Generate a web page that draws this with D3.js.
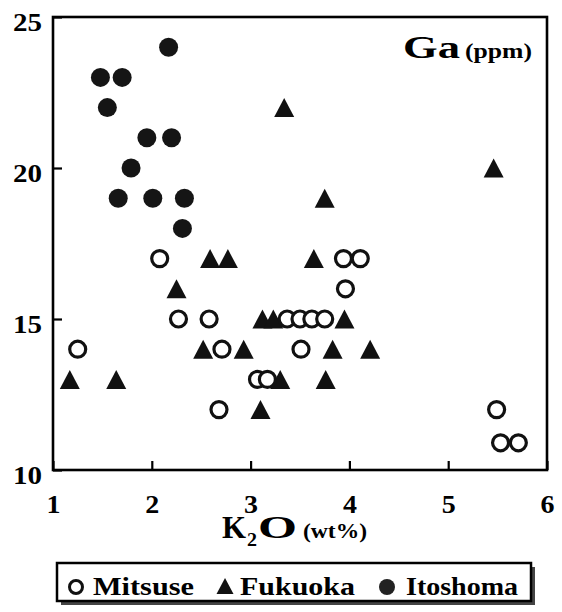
<!DOCTYPE html>
<html>
<head>
<meta charset="utf-8">
<script src="https://cdn.jsdelivr.net/npm/d3@7/dist/d3.min.js"></script>
<style>
  html, body { margin: 0; padding: 0; background: #fff; }
  svg { display: block; }
  text { font-family: "Liberation Serif", "Times New Roman", serif; font-weight: bold; fill: #000; }
</style>
</head>
<body>
<svg id="chart" width="562" height="612"></svg>
<script>
// ---- data ----
const xTicks = [1, 2, 3, 4, 5, 6];
const yTicks = [10, 15, 20, 25];
const seriesNames = ["Mitsuse", "Fukuoka", "Itoshoma"];

const mitsuseK2O = [1.25, 2.08, 2.27, 2.58, 2.71, 2.68, 3.07, 3.17, 3.37, 3.50, 3.62, 3.75, 3.51, 3.94, 4.11, 3.96, 5.49, 5.53, 5.71];
const mitsuseGa  = [14,   17,   15,   15,   14,   12,   13,   13,   15,   15,   15,   15,   14,   17,   17,   16,   12,   10.9, 10.9];

const fukuokaK2O = [1.17, 1.64, 2.25, 2.59, 2.77, 2.52, 2.93, 3.10, 3.12, 3.23, 3.30, 3.34, 3.64, 3.75, 3.95, 3.83, 4.21, 3.76, 5.46];
const fukuokaGa  = [13,   13,   16,   17,   17,   14,   14,   12,   15,   15,   13,   22,   17,   19,   15,   14,   14,   13,   20];

const itoshomaK2O = [2.17, 1.48, 1.70, 1.55, 1.95, 2.20, 1.79, 1.66, 2.01, 2.33, 2.31];
const itoshomaGa  = [24,   23,   23,   22,   21,   21,   20,   19,   19,   19,   18];

// ---- layout ----
const svg = d3.select("#chart");
const x = d3.scaleLinear().domain([1, 6]).range([53, 547]);
const y = d3.scaleLinear().domain([10, 25]).range([470, 17]);

const zip = (a, b) => a.map((v, i) => ({ k: v, ga: b[i] }));
const mitsuse = zip(mitsuseK2O, mitsuseGa);
const fukuoka = zip(fukuokaK2O, fukuokaGa);
const itoshoma = zip(itoshomaK2O, itoshomaGa);

const triPath = (w, h) => `M0,${-h/2}L${w/2},${h/2}L${-w/2},${h/2}Z`;

// axes
const xAxis = d3.axisBottom(x).tickValues(xTicks).tickFormat(d3.format("d"))
  .tickSizeInner(-9).tickSizeOuter(0).tickPadding(25);
const gx = svg.append("g").attr("transform", "translate(0,470)").call(xAxis);
gx.attr("font-family", null);
gx.select(".domain").remove();
gx.selectAll(".tick line").attr("stroke", "#000").attr("stroke-width", 2.2);
gx.selectAll(".tick text").attr("font-size", 26).attr("fill", "#000")
  .attr("textLength", d => String(d).length * 14).attr("lengthAdjust", "spacingAndGlyphs");

const yAxis = d3.axisLeft(y).tickValues(yTicks).tickFormat(d3.format("d"))
  .tickSizeInner(-9).tickSizeOuter(0).tickPadding(11);
const gy = svg.append("g").attr("transform", "translate(53,0)").call(yAxis);
gy.attr("font-family", null);
gy.select(".domain").remove();
gy.selectAll(".tick line").attr("stroke", "#000").attr("stroke-width", 2.2);
gy.selectAll(".tick text").attr("font-size", 26).attr("fill", "#000")
  .attr("dy", "0.5em").attr("textLength", 29).attr("lengthAdjust", "spacingAndGlyphs");

// frame
svg.append("rect")
  .attr("x", x(1)).attr("y", y(25))
  .attr("width", x(6) - x(1)).attr("height", y(10) - y(25))
  .attr("fill", "none").attr("stroke", "#000").attr("stroke-width", 2.6);

// points: Fukuoka (triangles)
svg.append("g").selectAll("path").data(fukuoka).join("path")
  .attr("d", triPath(20, 19))
  .attr("transform", d => `translate(${x(d.k)},${y(d.ga)})`)
  .attr("fill", "#111");

// Mitsuse (open circles)
svg.append("g").selectAll("circle").data(mitsuse).join("circle")
  .attr("cx", d => x(d.k)).attr("cy", d => y(d.ga)).attr("r", 8)
  .attr("fill", "#fff").attr("stroke", "#111").attr("stroke-width", 3.2);

// Itoshoma (filled circles)
svg.append("g").selectAll("circle").data(itoshoma).join("circle")
  .attr("cx", d => x(d.k)).attr("cy", d => y(d.ga)).attr("r", 9.5)
  .attr("fill", "#151515");

// panel label
svg.append("text").attr("x", 403).attr("y", 58).attr("font-size", 32)
  .attr("textLength", 57).attr("lengthAdjust", "spacingAndGlyphs").text("Ga");
svg.append("text").attr("x", 465).attr("y", 58).attr("font-size", 20)
  .attr("textLength", 67).attr("lengthAdjust", "spacingAndGlyphs").text("(ppm)");

// x axis title  K2O (wt%)
svg.append("text").attr("x", 222).attr("y", 538).attr("font-size", 32)
  .attr("textLength", 24).attr("lengthAdjust", "spacingAndGlyphs").text("K");
svg.append("text").attr("x", 247).attr("y", 546).attr("font-size", 19)
  .attr("textLength", 10).attr("lengthAdjust", "spacingAndGlyphs").text("2");
svg.append("text").attr("x", 258).attr("y", 538).attr("font-size", 32)
  .attr("textLength", 39).attr("lengthAdjust", "spacingAndGlyphs").text("O");
svg.append("text").attr("x", 303).attr("y", 538).attr("font-size", 22)
  .attr("textLength", 64).attr("lengthAdjust", "spacingAndGlyphs").text("(wt%)");

// legend
const lg = svg.append("g");
lg.append("rect").attr("x", 61).attr("y", 567).attr("width", 474).attr("height", 38).attr("fill", "#444");
lg.append("rect").attr("x", 57).attr("y", 563).attr("width", 474).attr("height", 38)
  .attr("fill", "#fff").attr("stroke", "#000").attr("stroke-width", 2.5);

const legendItems = [
  { name: seriesNames[0], mx: 76, tx: 93, tw: 101, type: "open" },
  { name: seriesNames[1], mx: 225, tx: 240, tw: 115, type: "tri" },
  { name: seriesNames[2], mx: 387, tx: 406, tw: 112, type: "fill" }
];
const my = 587;
legendItems.forEach(it => {
  if (it.type === "open") {
    lg.append("circle").attr("cx", it.mx).attr("cy", my).attr("r", 6.5)
      .attr("fill", "#fff").attr("stroke", "#111").attr("stroke-width", 3);
  } else if (it.type === "tri") {
    lg.append("path").attr("d", triPath(17, 16)).attr("transform", `translate(${it.mx},${my - 1})`).attr("fill", "#111");
  } else {
    lg.append("circle").attr("cx", it.mx).attr("cy", my).attr("r", 8).attr("fill", "#222");
  }
  lg.append("text").attr("x", it.tx).attr("y", 595).attr("font-size", 26)
    .attr("textLength", it.tw).attr("lengthAdjust", "spacingAndGlyphs").text(it.name);
});
</script>
</body>
</html>
